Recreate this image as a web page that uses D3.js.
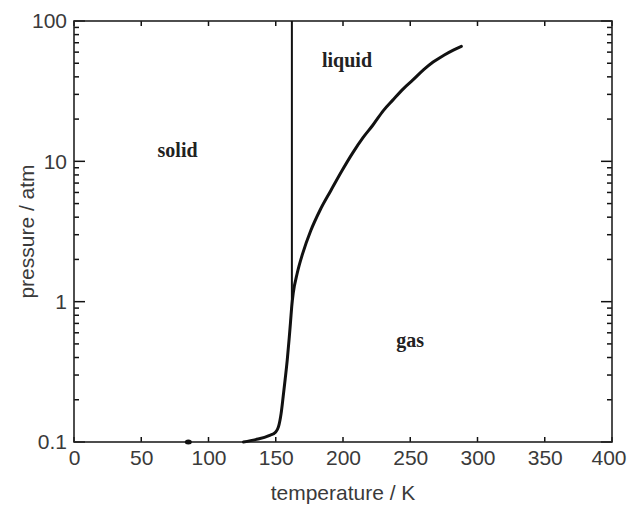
<!DOCTYPE html>
<html>
<head>
<meta charset="utf-8">
<script src="https://cdn.jsdelivr.net/npm/d3@7"></script>
<style>
  body { margin: 0; background: #fff; }
  svg text { font-family: "Liberation Sans", Arial, sans-serif; }
</style>
</head>
<body>
<svg id="chart" width="627" height="505"></svg>
<script>
// sublimation + vaporisation curve (temperature K, pressure atm)
const curveT = [126, 135, 145, 150, 152, 154, 155.5, 157, 158.5, 160, 161, 162, 163, 166, 170, 176, 183, 191, 199, 207, 215, 222, 230, 237, 245, 252, 260, 267, 275, 282, 288];
const curveP = [0.1, 0.104, 0.111, 0.118, 0.128, 0.16, 0.21, 0.28, 0.38, 0.55, 0.72, 0.95, 1.15, 1.6, 2.2, 3.2, 4.5, 6.2, 8.5, 11.4, 14.8, 18, 23, 27.3, 33, 38, 45, 51, 57, 62, 66];
// melting line
const meltT = [162, 162];
const meltP = [0.9, 100];
const xTicks = [0, 50, 100, 150, 200, 250, 300, 350, 400];
const yTicks = [0.1, 1, 10, 100];
const regions = ["solid", "liquid", "gas"];
const regionT = [77, 203, 250];
const regionP = [12, 53, 0.53];

const margin = { top: 21, right: 15, bottom: 63, left: 74 };
const svg = d3.select("#chart");
const width = 627 - margin.left - margin.right;
const height = 505 - margin.top - margin.bottom;
const g = svg.append("g").attr("transform", `translate(${margin.left},${margin.top})`);

const x = d3.scaleLinear().domain([0, 400]).range([0, width]);
const y = d3.scaleLog().domain([0.1, 100]).range([height, 0]);

const minor = [];
[0.1, 1, 10].forEach((d) => {
  for (let k = 2; k <= 9; k++) minor.push(d * k);
});

// tick labels through d3 axes, no tick lines
const xAxis = g.append("g")
  .attr("transform", `translate(0,${height})`)
  .call(d3.axisBottom(x).tickValues(xTicks).tickSize(0).tickPadding(8).tickFormat(d3.format("d")));
xAxis.select(".domain").remove();
xAxis.selectAll("text").attr("fill", "#3a3a3a").style("font-size", "21px");
// last label sits a little left so it stays on the page
xAxis.selectAll("text").filter((d) => d === 400).attr("text-anchor", "end").attr("dx", "14");

const yAxis = g.append("g")
  .call(d3.axisLeft(y).tickValues(yTicks).tickSize(0).tickPadding(7).tickFormat(d3.format("~g")));
yAxis.select(".domain").remove();
yAxis.selectAll("text").attr("fill", "#3a3a3a").style("font-size", "21px");

// tick marks, all pointing inward
const ticks = g.append("g").attr("stroke", "#111").attr("stroke-width", 1.5);
ticks.selectAll(".xb")
  .data(xTicks)
  .join("line")
  .attr("x1", (d) => x(d)).attr("x2", (d) => x(d))
  .attr("y1", height).attr("y2", height - 5);
ticks.selectAll(".xt")
  .data(xTicks)
  .join("line")
  .attr("x1", (d) => x(d)).attr("x2", (d) => x(d))
  .attr("y1", 0).attr("y2", 5);
[0, width].forEach((x0) => {
  const dir = x0 === 0 ? 1 : -1;
  ticks.append("g").selectAll("line")
    .data(yTicks)
    .join("line")
    .attr("x1", x0).attr("x2", x0 + dir * 11)
    .attr("y1", (d) => y(d)).attr("y2", (d) => y(d));
  ticks.append("g").selectAll("line")
    .data(minor)
    .join("line")
    .attr("x1", x0).attr("x2", x0 + dir * 5)
    .attr("y1", (d) => y(d)).attr("y2", (d) => y(d));
});

// frame
g.append("rect")
  .attr("width", width)
  .attr("height", height)
  .attr("fill", "none")
  .attr("stroke", "#222")
  .attr("stroke-width", 1.6);

const line = d3.line()
  .x((d) => x(d[0]))
  .y((d) => y(d[1]))
  .curve(d3.curveMonotoneX);

g.append("path")
  .datum(meltT.map((t, i) => [t, meltP[i]]))
  .attr("d", d3.line().x((d) => x(d[0])).y((d) => y(d[1])))
  .attr("fill", "none")
  .attr("stroke", "#111")
  .attr("stroke-width", 2);

g.append("path")
  .datum(curveT.map((t, i) => [t, curveP[i]]))
  .attr("d", line)
  .attr("fill", "none")
  .attr("stroke", "#111")
  .attr("stroke-width", 3)
  .attr("stroke-linejoin", "round")
  .attr("stroke-linecap", "round");

// small blob on the axis near 85 K
g.append("ellipse")
  .attr("cx", x(85))
  .attr("cy", y(0.1))
  .attr("rx", 3.5)
  .attr("ry", 2.5)
  .attr("fill", "#111");

// region labels
g.selectAll(".region")
  .data(regions)
  .join("text")
  .attr("class", "region")
  .attr("x", (d, i) => x(regionT[i]))
  .attr("y", (d, i) => y(regionP[i]))
  .attr("text-anchor", "middle")
  .attr("dy", "0.35em")
  .style("font-family", "'Liberation Serif', 'Times New Roman', serif")
  .style("font-weight", "bold")
  .style("font-size", "20px")
  .attr("fill", "#222")
  .text((d) => d);

// axis titles
svg.append("text")
  .attr("x", margin.left + width / 2)
  .attr("y", 500)
  .attr("text-anchor", "middle")
  .attr("fill", "#3a3a3a")
  .style("font-size", "21px")
  .text("temperature / K");

svg.append("text")
  .attr("transform", `translate(34,${margin.top + height / 2}) rotate(-90)`)
  .attr("text-anchor", "middle")
  .attr("fill", "#3a3a3a")
  .style("font-size", "21px")
  .text("pressure / atm");
</script>
</body>
</html>
